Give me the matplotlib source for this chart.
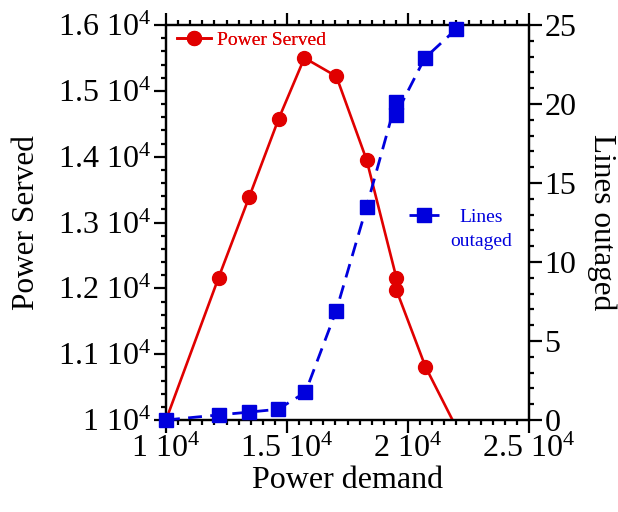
import matplotlib
matplotlib.use("Agg")
import matplotlib.pyplot as plt
from matplotlib.ticker import MultipleLocator, FuncFormatter

plt.rcParams["font.family"] = ["Liberation Serif", "DejaVu Serif"]
plt.rcParams["mathtext.fontset"] = "custom"
plt.rcParams["mathtext.rm"] = "Liberation Serif"
plt.rcParams["mathtext.it"] = "Liberation Serif:italic"

# Power served vs. demand
demand_served = [10000, 12170, 13430, 14650, 15720, 17040, 18290, 19520, 19520, 20720, 23000]
power_served = [10000, 12160, 13380, 14570, 15500, 15220, 13950, 12160, 11975, 10810, 9160]

# Number of outaged lines vs. demand
demand_lines = [10000, 12170, 13440, 14630, 15760, 17030, 18290, 19490, 19490, 20690, 22000]
lines_outaged = [0, 0.32, 0.5, 0.68, 1.75, 6.9, 13.5, 20.1, 19.3, 22.9, 24.75]

RED = "#e00000"
BLUE = "#0000dd"

fig = plt.figure(figsize=(6.18, 5.12), dpi=100)
ax = fig.add_axes([166 / 618, 1 - 420 / 512, 363 / 618, 395 / 512])
ax2 = ax.twinx()


def sci(v, pos):
    m = v / 1e4
    return f"{m:g} 10$^{{4}}$"


fmt = FuncFormatter(sci)

(l1,) = ax.plot(demand_served, power_served, color=RED, lw=1.9, marker="o",
                markersize=10, label="Power Served", zorder=3)
(l2,) = ax2.plot(demand_lines, lines_outaged, color=BLUE, lw=2.0, ls="--",
                 dashes=(5, 3), marker="s", markersize=10, label="Lines",
                 clip_on=False, zorder=3)

ax.set_xlim(10000, 25000)
ax.set_ylim(10000, 16000)
ax2.set_ylim(0, 25)

ax.xaxis.set_major_locator(MultipleLocator(5000))
ax.xaxis.set_minor_locator(MultipleLocator(500))
ax.yaxis.set_major_locator(MultipleLocator(1000))
ax.yaxis.set_minor_locator(MultipleLocator(200))
ax2.yaxis.set_major_locator(MultipleLocator(5))
ax2.yaxis.set_minor_locator(MultipleLocator(1))
ax.xaxis.set_major_formatter(fmt)
ax.yaxis.set_major_formatter(fmt)

ax.tick_params(axis="x", which="both", direction="out", top=True, labeltop=False)
ax.tick_params(axis="y", which="both", direction="out", right=False)
ax2.tick_params(axis="y", which="both", direction="out")
for a in (ax, ax2):
    a.tick_params(which="major", length=9, width=1.6, labelsize=23, pad=2)
    a.tick_params(which="minor", length=3.5, width=1.6)
    for s in a.spines.values():
        s.set_linewidth(1.6)

ax.set_xlabel("Power demand", fontsize=23, labelpad=1)
ax.set_ylabel("Power Served", fontsize=22.5, labelpad=12)
ax2.set_ylabel("Lines outaged", fontsize=22.5, rotation=270, labelpad=29)

leg1 = ax.legend(handles=[l1], loc="upper left", bbox_to_anchor=(0.03, 0.985),
                 frameon=False, fontsize=14, handlelength=1.75, handletextpad=0.3,
                 borderpad=0, borderaxespad=0, labelcolor=RED)
ax.add_artist(leg1)
leg2 = ax2.legend(handles=[l2], loc="center left", bbox_to_anchor=(0.67, 0.513),
                  frameon=False, fontsize=14, handlelength=1.55, handletextpad=1.05,
                  borderpad=0, borderaxespad=0, labelcolor=BLUE)
# second line of the legend label, centred under "Lines"
ax2.annotate("outaged", xy=(0.5, 0.0), xycoords=leg2.get_texts()[0],
             xytext=(0, -5), textcoords="offset points",
             ha="center", va="top", fontsize=14, color=BLUE, zorder=10)

fig.savefig("out.png", dpi=100)
